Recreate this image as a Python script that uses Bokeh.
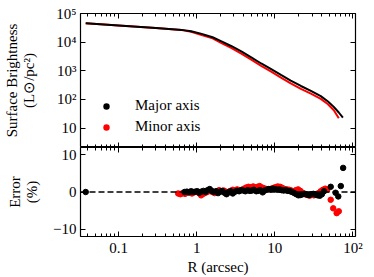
from bokeh.plotting import figure
from bokeh.layouts import column
from bokeh.models import (Range1d, LogAxis, LinearAxis, Span, Legend, LegendItem,
                          FixedTicker, LogScale)
from bokeh.embed import file_html
from bokeh.resources import INLINE

# ---------------- data ----------------
r_major = [0.038, 0.1, 0.3, 0.645, 0.85, 1.16, 1.6, 2.08, 2.8, 3.73, 5.0, 6.7, 9.0, 12, 16, 21.6, 29, 38.8, 48, 57, 66, 74.5]
sb_major = [45700, 38000, 31000, 26800, 24000, 19400, 14800, 10700, 7200, 4790, 2950, 1800, 1150, 724, 457, 295, 200, 131, 85, 55, 35, 23]

r_minor = [0.038, 0.1, 0.3, 0.645, 0.85, 1.16, 1.6, 2.08, 2.8, 3.73, 5.0, 6.7, 9.0, 12, 16, 21.6, 29, 38.8, 48, 57, 66]
sb_minor = [45700, 38000, 31000, 26300, 23000, 17800, 13500, 9300, 6200, 4000, 2450, 1480, 930, 575, 365, 234, 160, 105, 68, 42, 22]

err_r_major = [0.038, 0.70, 0.75, 0.80, 0.85, 0.90, 0.96, 1.02, 1.08, 1.15, 1.22, 1.30, 1.38, 1.47, 1.56,
               1.66, 1.77, 1.88, 2.0, 2.13, 2.27, 2.41, 2.57, 2.73, 2.9, 3.1, 3.3, 3.5, 3.72, 3.96, 4.2,
               4.5, 4.8, 5.1, 5.4, 5.8, 6.1, 6.5, 7.0, 7.4, 7.9, 8.4, 8.9, 9.5, 10.1, 10.8, 11.5, 12.2,
               13.0, 13.8, 14.7, 15.7, 16.7, 17.8, 18.9, 20.1, 21.4, 22.8, 24.3, 25.9, 27.5, 29.3, 31.2,
               33.2, 35.4, 37.7, 40.1, 42.7, 52, 60, 65, 70, 75]
err_major = [0.0, 0.0, 0.1, -0.1, 0.2, 0.0, 0.1, 0.2, -0.2, 0.1, 0.3, 0.0, 0.5, 0.8, 0.3,
             0.0, 0.2, -0.3, 0.1, 0.3, -0.2, -0.6, 0.0, 0.2, -0.4, 0.1, 0.3, 0.2, 0.5, 0.4, 0.2,
             0.5, 0.3, 0.4, 0.6, 0.2, 0.3, 0.5, -0.1, 0.4, 0.6, 0.8, 0.7, 0.9, 0.8, 0.6, 0.7, 0.5,
             0.4, 0.5, 0.3, 0.2, 0.0, -0.3, -0.6, -0.9, -0.8, -0.6, -0.5, -0.7, -0.8, -0.6, -0.5,
             -0.7, -0.9, -1.0, -0.6, 0.2, 1.4, -0.2, -1.2, 1.6, 6.5]

err_r_minor = [0.58, 0.62, 0.66, 0.71, 0.76, 0.81, 0.87, 0.93, 1.0, 1.07, 1.14, 1.22, 1.3, 1.39, 1.49,
               1.59, 1.7, 1.82, 1.94, 2.08, 2.22, 2.37, 2.53, 2.7, 2.9, 3.1, 3.3, 3.53, 3.77, 4.03, 4.3,
               4.6, 4.9, 5.3, 5.6, 6.0, 6.4, 6.9, 7.3, 7.8, 8.4, 9.0, 9.6, 10.2, 10.9, 11.7, 12.5, 13.4,
               14.3, 15.3, 16.3, 17.4, 18.6, 19.9, 21.3, 22.7, 24.3, 26.0, 27.8, 29.7, 31.7, 33.9, 36.2,
               38.7, 41.3, 44.2, 47, 52, 56, 62, 66]
err_minor = [-0.4, -0.6, -0.3, -0.5, -0.2, 0.0, -0.4, -0.1, 0.1, -0.3, -0.9, -0.5, -0.2, 0.1, 0.3,
             0.0, -0.3, 0.2, 0.5, 0.2, 0.4, 0.1, -0.2, 0.3, 0.6, 0.4, 0.7, 0.5, 0.6, 0.9, 1.2,
             1.4, 1.3, 1.5, 1.2, 1.4, 1.6, 1.2, 1.0, 0.8, 0.7, 0.9, 1.1, 1.3, 1.5, 1.4, 1.1, 0.8,
             0.7, 0.6, 0.4, 0.2, 0.5, 0.7, 0.3, -0.2, -0.6, -0.8, -1.0, -0.8, -0.9, -0.6, -0.3,
             0.2, 0.6, 0.9, 0.6, -2.1, -4.4, -5.7, -5.2]

x_ticks = [0.1, 1, 10, 100]
x_minor_ticks = [0.04, 0.05, 0.06, 0.07, 0.08, 0.09,
                 0.2, 0.3, 0.4, 0.5, 0.6, 0.7, 0.8, 0.9,
                 2, 3, 4, 5, 6, 7, 8, 9,
                 20, 30, 40, 50, 60, 70, 80, 90]
x_tick_labels = {0.1: "0.1", 1: "1", 10: "10", 100: "10²"}
sb_ticks = [10, 100, 1000, 10000, 100000]
sb_tick_labels = {10: "10", 100: "10²", 1000: "10³", 10000: "10⁴", 100000: "10⁵"}
err_ticks = [-10, 0, 10]
err_tick_labels = {-10: "−10", 0: "0", 10: "10"}

FONT = "Liberation Serif"
FS = "15px"
x_range = Range1d(0.0326, 108)


def style_axis(ax, labels=True, minor=True):
    ax.major_tick_in = 5
    ax.major_tick_out = 0
    ax.minor_tick_in = 3 if minor else 0
    ax.minor_tick_out = 0
    ax.axis_line_color = None
    ax.major_tick_line_color = "black"
    ax.minor_tick_line_color = "black"
    ax.major_tick_line_width = 1
    ax.minor_tick_line_width = 1
    ax.major_label_text_font = FONT
    ax.major_label_text_color = "black"
    ax.axis_label_text_font = FONT
    ax.axis_label_text_font_size = FS
    ax.axis_label_text_font_style = "normal"
    ax.axis_label_text_color = "black"
    ax.axis_label_text_line_height = 1.08
    if labels:
        ax.major_label_text_font_size = FS
        ax.major_label_standoff = 4
    else:
        ax.major_label_text_font_size = "1px"
        ax.major_label_text_alpha = 0
        ax.major_label_standoff = 0


def x_ticker():
    return FixedTicker(ticks=x_ticks, minor_ticks=x_minor_ticks)


# ---------------- top panel ----------------
top = figure(width=365, height=147, x_axis_type=None, y_axis_type=None,
             x_range=x_range, y_range=Range1d(2.1, 1e5),
             output_backend="svg", toolbar_location=None,
             min_border_left=78, min_border_right=10, min_border_top=13, min_border_bottom=0)
top.x_scale = LogScale()
top.y_scale = LogScale()

ly = LogAxis(ticker=FixedTicker(ticks=sb_ticks), major_label_overrides=sb_tick_labels,
             axis_label="Surface Brightness\n(L⊙/pc²)")
style_axis(ly, labels=True, minor=False)
ly.axis_label_standoff = 16
top.add_layout(ly, "left")
ry = LogAxis(ticker=FixedTicker(ticks=sb_ticks))
style_axis(ry, labels=False, minor=False)
top.add_layout(ry, "right")
for loc in ("above", "below"):
    ax = LogAxis(ticker=x_ticker())
    style_axis(ax, labels=False)
    top.add_layout(ax, loc)

top.line(r_minor, sb_minor, line_color="#ff0000", line_width=2)
top.line(r_major, sb_major, line_color="black", line_width=2)

# legend markers: size-0 scatter of the curves, so only the legend glyph shows
lg_major = top.scatter(r_major, sb_major, size=0, fill_color="black", line_alpha=0)
lg_minor = top.scatter(r_minor, sb_minor, size=0, fill_color="#ff0000", line_alpha=0)
legend = Legend(items=[LegendItem(label="Major axis", renderers=[lg_major]),
                       LegendItem(label="Minor axis", renderers=[lg_minor])],
                location=(16, 10), border_line_color=None, background_fill_alpha=0,
                padding=0, margin=0, spacing=0, glyph_width=20, glyph_height=16,
                label_height=21, label_standoff=19, label_text_font=FONT,
                label_text_font_size=FS, label_text_color="black")
top.add_layout(legend, "center")

top.outline_line_color = "black"
top.outline_line_width = 1.2
top.xgrid.visible = False
top.ygrid.visible = False

# ---------------- bottom panel ----------------
bot = figure(width=365, height=130, x_axis_type=None, y_axis_type=None,
             x_range=x_range, y_range=Range1d(-12, 12),
             output_backend="svg", toolbar_location=None,
             min_border_left=78, min_border_right=10, min_border_top=0, min_border_bottom=30)
bot.x_scale = LogScale()

bx = LogAxis(ticker=x_ticker(), major_label_overrides=x_tick_labels, axis_label="R (arcsec)")
style_axis(bx, labels=True)
bx.major_label_standoff = 3
bx.axis_label_standoff = 0
bot.add_layout(bx, "below")
tx = LogAxis(ticker=x_ticker())
style_axis(tx, labels=False)
bot.add_layout(tx, "above")

by = LinearAxis(ticker=FixedTicker(ticks=err_ticks), major_label_overrides=err_tick_labels,
                axis_label="Error\n(%)")
style_axis(by, labels=True, minor=False)
by.axis_label_standoff = 10
bot.add_layout(by, "left")
bry = LinearAxis(ticker=FixedTicker(ticks=err_ticks))
style_axis(bry, labels=False, minor=False)
bot.add_layout(bry, "right")

bot.add_layout(Span(location=0, dimension="width", line_color="black",
                    line_width=1.3, line_dash="6 3"))
bot.scatter(err_r_minor, err_minor, size=5.5, color="#ff0000")
bot.scatter(err_r_major, err_major, size=5.5, color="black")

bot.outline_line_color = "black"
bot.outline_line_width = 1.2
bot.xgrid.visible = False
bot.ygrid.visible = False

layout = column(top, bot, spacing=0)
open("out.html", "w").write(file_html(layout, INLINE))
